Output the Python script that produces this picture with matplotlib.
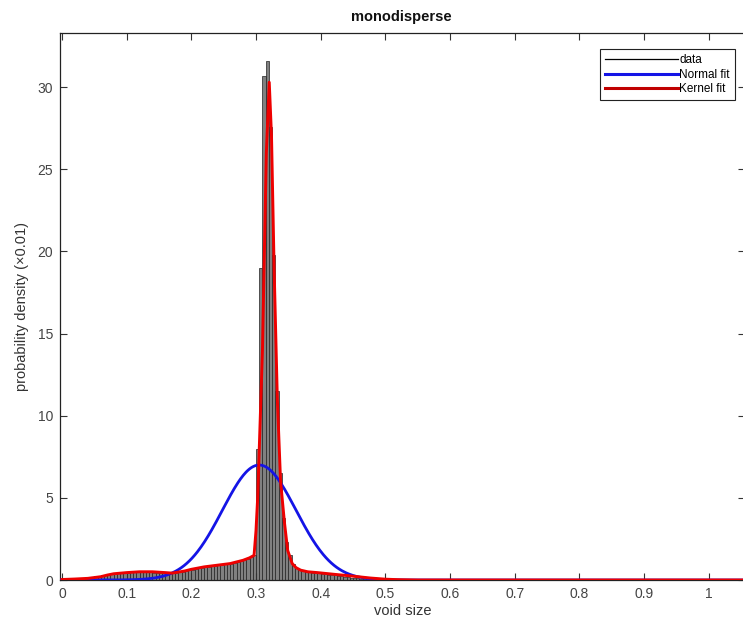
import numpy as np
import matplotlib
matplotlib.use("Agg")
import matplotlib.pyplot as plt
from matplotlib.lines import Line2D

plt.rcParams['font.family'] = ['Liberation Sans', 'DejaVu Sans']

# ---- data ----
bin_width = 0.005
hist_heights = [
    # 0.000 - 0.100
    0.03, 0.05, 0.05, 0.08, 0.10, 0.10, 0.12, 0.15, 0.18, 0.20,
    0.22, 0.25, 0.30, 0.32, 0.35, 0.38, 0.40, 0.42, 0.42, 0.45,
    # 0.100 - 0.200
    0.45, 0.48, 0.50, 0.48, 0.50, 0.50, 0.48, 0.47, 0.45, 0.45,
    0.42, 0.40, 0.38, 0.40, 0.42, 0.45, 0.48, 0.50, 0.55, 0.60,
    # 0.200 - 0.300
    0.62, 0.68, 0.72, 0.75, 0.80, 0.82, 0.85, 0.88, 0.90, 0.90,
    0.95, 1.00, 1.00, 1.05, 1.10, 1.15, 1.20, 1.30, 1.40, 1.50,
    # 0.300 - 0.400
    8.0, 19.0, 30.7, 31.6, 27.6, 19.8, 11.5, 6.5, 3.8, 2.3,
    1.5, 1.0, 0.75, 0.60, 0.55, 0.50, 0.48, 0.45, 0.42, 0.40,
    # 0.400 - 0.500
    0.38, 0.35, 0.33, 0.30, 0.28, 0.25, 0.22, 0.20, 0.18, 0.15,
    0.13, 0.11, 0.09, 0.08, 0.06, 0.05, 0.04, 0.03, 0.02, 0.02,
    # 0.500 - 0.550
    0.01, 0.01, 0.01, 0.01, 0.01, 0.0, 0.0, 0.0, 0.0, 0.0,
]

normal_mu = 0.305
normal_sigma = 0.057

kernel_x = [0, 0.02, 0.04, 0.06, 0.07, 0.08, 0.10, 0.12, 0.14, 0.16, 0.17, 0.18,
            0.19, 0.20, 0.22, 0.24, 0.26, 0.27, 0.28, 0.29, 0.297, 0.300, 0.3026,
            0.310, 0.316, 0.3205, 0.324, 0.328, 0.333, 0.338, 0.344, 0.349, 0.356,
            0.362, 0.369, 0.380, 0.395, 0.420, 0.446, 0.477, 0.500, 0.520, 0.550, 1.06]
kernel_y = [0.03, 0.06, 0.10, 0.20, 0.30, 0.38, 0.45, 0.50, 0.50, 0.45, 0.42, 0.48,
            0.55, 0.65, 0.80, 0.90, 1.00, 1.10, 1.20, 1.35, 1.50, 3.0, 5.0,
            14.0, 26.0, 30.3, 27.0, 19.0, 11.0, 6.0, 3.5, 1.8, 1.0,
            0.75, 0.60, 0.50, 0.45, 0.35, 0.25, 0.12, 0.05, 0.02, 0.0, 0.0]

xticks = [0, 0.1, 0.2, 0.3, 0.4, 0.5, 0.6, 0.7, 0.8, 0.9, 1]
xticklabels = ['0', '0.1', '0.2', '0.3', '0.4', '0.5', '0.6', '0.7', '0.8', '0.9', '1']
yticks = [0, 5, 10, 15, 20, 25, 30]
legend_labels = ['data', 'Normal fit', 'Kernel fit']

# ---- figure ----
W, H = 743, 625
fig = plt.figure(figsize=(W / 100, H / 100), dpi=100)
ax = fig.add_axes([60 / W, 1 - 580 / H, (745 - 60) / W, (580 - 33) / H])

edges = np.arange(len(hist_heights)) * bin_width
ax.bar(edges, hist_heights, width=bin_width, align='edge',
       facecolor='#808080', edgecolor='#222222', linewidth=0.5, zorder=1)

xs = np.linspace(-0.01, 1.1, 800)
ys = np.exp(-(xs - normal_mu) ** 2 / (2 * normal_sigma ** 2)) / (normal_sigma * np.sqrt(2 * np.pi))
ax.plot(xs, ys, color='#1414e6', lw=2.0, zorder=3)
ax.plot(kernel_x, kernel_y, color='#ee0000', lw=2.1, zorder=4)

ax.set_xlim(-0.003, 1.056)
ax.set_ylim(0, 33.3)
ax.set_xticks(xticks)
ax.set_xticklabels(xticklabels)
ax.set_yticks(yticks)
ax.tick_params(direction='in', length=5, width=0.8, labelsize=10, colors='#333333',
               top=True, right=True, pad=5)
ax.tick_params(axis='both', labelcolor='#444444')
for s in ax.spines.values():
    s.set_color('#222222')
    s.set_linewidth(0.9)

ax.set_xlabel('void size', fontsize=10.5, color='#333333', labelpad=2)
ax.set_ylabel('probability density (×0.01)', fontsize=10.5, color='#333333', labelpad=6)
fig.text(401 / W, 1 - 17 / H, 'monodisperse', fontsize=10.5, fontweight='bold',
         color='#111111', ha='center', va='center')

handles = [Line2D([], [], color='black', lw=0.9),
           Line2D([], [], color='#1414e6', lw=2.2),
           Line2D([], [], color='#c00000', lw=2.2)]
leg = ax.legend(handles, legend_labels,
                loc='upper right', bbox_to_anchor=(735 / W, 1 - 49 / H),
                bbox_transform=fig.transFigure, fontsize=8.5, frameon=True,
                fancybox=False, edgecolor='#222222', framealpha=1,
                handlelength=6.2, handletextpad=0.1, borderpad=0.45,
                labelspacing=0.2, borderaxespad=0)
leg.get_frame().set_linewidth(0.8)

fig.savefig('out.png', dpi=100)
